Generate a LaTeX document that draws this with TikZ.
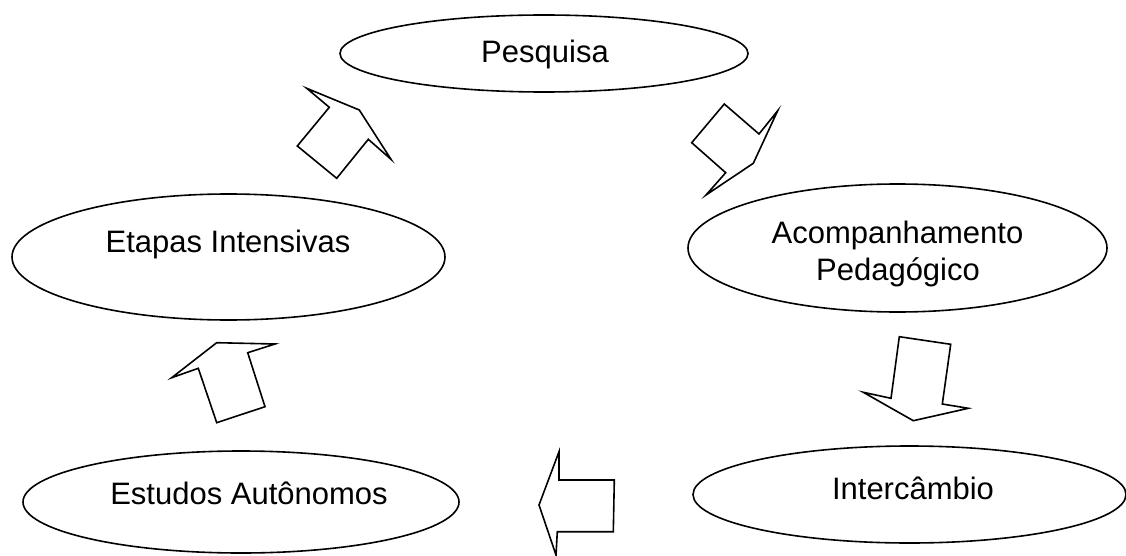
\documentclass[tikz,border=0pt]{standalone}
\usepackage{fontspec}
\setmainfont{Liberation Sans}
\usetikzlibrary{shapes.geometric}
\begin{document}
\begin{tikzpicture}[x=1pt,y=-1pt,
  oval/.style={draw,ellipse,line width=1.6pt,inner sep=0pt},
  txt/.style={anchor=base,font=\fontsize{31}{37}\selectfont},
  blockarrow/.style={draw,line width=1.6pt,line join=miter}]
  \useasboundingbox (0,0) rectangle (1126,556);
  \node[oval,minimum width=408pt,minimum height=77pt] (pesq) at (544,53.5) {};
  \node[oval,minimum width=433pt,minimum height=126pt] (etap) at (228.5,257) {};
  \node[oval,minimum width=419pt,minimum height=128pt] (acomp) at (897.5,248) {};
  \node[oval,minimum width=436pt,minimum height=102pt] (estu) at (241,502) {};
  \node[oval,minimum width=433pt,minimum height=97pt] (inter) at (909.5,494.5) {};
  \node[txt] (pesqtxt) at (545,63) {Pesquisa};
  \node[txt] (etaptxt) at (228,252) {Etapas Intensivas};
  \node[txt] (acomptxt) at (897.5,243) {Acompanhamento};
  \node[txt] (pedtxt) at (898,280) {Pedagógico};
  \node[txt] (estutxt) at (249,504) {Estudos Autônomos};
  \node[txt] (intertxt) at (913,499) {Intercâmbio};
  \draw[blockarrow] (306.7,88.3) -- (329.3,107.3) -- (297.3,146) -- (336.7,178.3)
    -- (368.3,139.3) -- (391,159.3) -- (359.3,110) -- cycle;
  \draw[blockarrow] (724.3,104) -- (759,134) -- (777.7,110.7) -- (753.3,163.3)
    -- (706,195) -- (725.7,172.7) -- (691.7,142.7) -- cycle;
  \draw[blockarrow] (899.3,336.7) -- (950.7,344.3) -- (942.3,404) -- (968.3,408.3)
    -- (913.3,420.7) -- (863.3,392.3) -- (891,398.3) -- cycle;
  \draw[blockarrow] (559,451.7) -- (559,480) -- (614.3,480) -- (613.3,531.7)
    -- (557.3,531.7) -- (556,555) -- (539,505) -- cycle;
  \draw[blockarrow] (216.7,342.7) -- (275,344) -- (247.7,352.7) -- (265,406.7)
    -- (216.7,422.7) -- (198.3,368.3) -- (171.7,377.7) -- cycle;
\end{tikzpicture}
\end{document}
